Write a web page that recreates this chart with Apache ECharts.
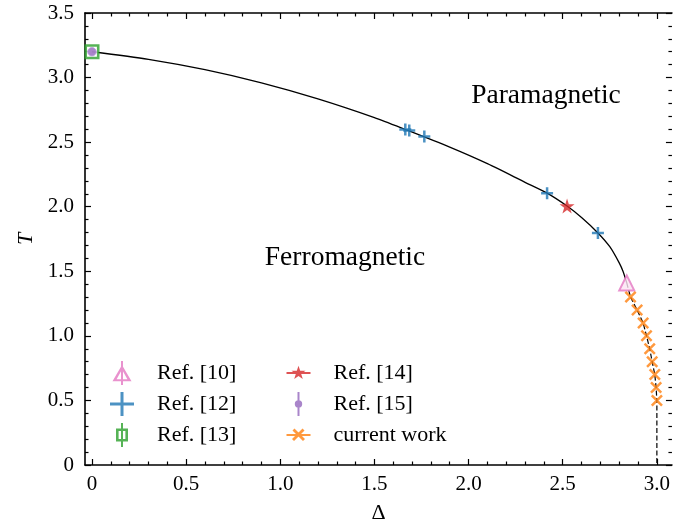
<!DOCTYPE html>
<html><head><meta charset="utf-8">
<script src="https://cdn.jsdelivr.net/npm/echarts@6/dist/echarts.min.js"></script>
<style>html,body{margin:0;padding:0;background:#fff}#c{width:673px;height:529px}</style>
</head><body><div id="c"></div>
<script>
// ---- data ----
const curveDelta = [0, 0.3, 0.6, 0.9, 1.2, 1.5, 1.664, 1.9, 2.1, 2.3, 2.417, 2.523, 2.6, 2.687, 2.75, 2.80, 2.82, 2.84];
const curveT     = [3.2, 3.141, 3.061, 2.959, 2.835, 2.69, 2.598, 2.461, 2.333, 2.189, 2.105, 2.005, 1.916, 1.797, 1.69, 1.565, 1.50, 1.41];
const dashDelta = [2.84, 2.86, 2.895, 2.927, 2.945, 2.962, 2.975, 2.989, 2.996, 3.0, 3.0];
const dashT     = [1.41, 1.3, 1.2, 1.1, 1.0, 0.9, 0.8, 0.7, 0.6, 0.5, 0.0];
const ref10Delta = [2.84];  const ref10T = [1.41];
const ref12Delta = [1.664, 1.685, 1.765, 2.417, 2.687];
const ref12T     = [2.598, 2.59, 2.544, 2.105, 1.797];
const ref13Delta = [0];     const ref13T = [3.2];
const ref14Delta = [2.523]; const ref14T = [2.005];
const ref15Delta = [0];     const ref15T = [3.2];
const curDelta = [2.86, 2.895, 2.927, 2.945, 2.962, 2.975, 2.989, 2.996, 3.0];
const curT     = [1.3, 1.2, 1.1, 1.0, 0.9, 0.8, 0.7, 0.6, 0.5];
const seriesNames = ['Ref. [10]', 'Ref. [12]', 'Ref. [13]', 'Ref. [14]', 'Ref. [15]', 'current work'];
const xTicks = [0, 0.5, 1.0, 1.5, 2.0, 2.5, 3.0];
const xTickLabels = ['0', '0.5', '1.0', '1.5', '2.0', '2.5', '3.0'];
const xMinor = [0.1,0.2,0.3,0.4,0.6,0.7,0.8,0.9,1.1,1.2,1.3,1.4,1.6,1.7,1.8,1.9,2.1,2.2,2.3,2.4,2.6,2.7,2.8,2.9];
const yTicks = [0, 0.5, 1.0, 1.5, 2.0, 2.5, 3.0, 3.5];
const yTickLabels = ['0', '0.5', '1.0', '1.5', '2.0', '2.5', '3.0', '3.5'];
const yMinor = [0.1,0.2,0.3,0.4,0.6,0.7,0.8,0.9,1.1,1.2,1.3,1.4,1.6,1.7,1.8,1.9,2.1,2.2,2.3,2.4,2.6,2.7,2.8,2.9,3.1,3.2,3.3,3.4];

const pairs = (a, b) => a.map((v, i) => [v, b[i]]);
const FONT = '"Liberation Serif", "Times New Roman", serif';
const XMIN = -0.037, XMAX = 3.08, YMIN = 0, YMAX = 3.5;

const C = {pink:'#e377c2', blue:'#1f77b4', green:'#2ca02c', red:'#d62728', purple:'#9467bd', orange:'#ff7f0e'};

const plusSym = 'path://M9.5 0H14.5V9.5H24V14.5H14.5V24H9.5V14.5H0V9.5H9.5Z';
const xSym = 'path://M3.5 0L24 20.5L20.5 24L0 3.5Z M20.5 0L24 3.5L3.5 24L0 20.5Z';
const starSym = 'path://M12 0L14.69 8.3L23.41 8.29L16.36 13.42L19.05 21.71L12 16.58L4.95 21.71L7.64 13.42L0.59 8.29L9.31 8.3Z';

const A = 'M0 0L0 0M24 24L24 24';
const icons = {
  'Ref. [10]': 'path://' + A + 'M11 0L13 0L13 24L11 24Z M12 4L21.5 20.3L2.5 20.3Z M12 8.4L6.6 18.3L17.4 18.3Z',
  'Ref. [12]': 'path://' + A + 'M10.5 0H13.5V10.5H24V13.5H13.5V24H10.5V13.5H0V10.5H10.5Z',
  'Ref. [13]': 'path://' + A + 'M11 0H13V24H11Z M6 5.5H18V18.5H6Z M8.6 8.1V15.9H15.4V8.1Z',
  'Ref. [14]': 'path://' + A + 'M0 11H24V13H0Z M12 4.8L13.7 9.8L19 9.8L14.7 12.9L16.3 18L12 14.9L7.7 18L9.3 12.9L5 9.8L10.3 9.8Z',
  'Ref. [15]': 'path://' + A + 'M11 0H13V24H11Z M15.7 12A3.7 3.7 0 1 1 8.3 12A3.7 3.7 0 1 1 15.7 12Z',
  'current work': 'path://' + A + 'M0 11H24V13H0Z M8 5.5L18.5 16L16.5 18L6 7.5Z M16 5.5L18 7.5L7.5 18L5.5 16Z'
};
const iconColor = {'Ref. [10]':C.pink,'Ref. [12]':C.blue,'Ref. [13]':C.green,'Ref. [14]':C.red,'Ref. [15]':C.purple,'current work':C.orange};
const legendItem = n => ({name:n, icon:icons[n], itemStyle:{color:iconColor[n], borderWidth:0}});

function xAxisDef(pos, vals, len, labels, line) {
  return {
    type:'value', gridIndex:0, position:pos, min:XMIN, max:XMAX,
    splitLine:{show:false},
    axisLine:{show:line, onZero:false, lineStyle:{color:'#000', width:1.6}},
    axisTick:{show:true, inside:true, length:len, customValues:vals, lineStyle:{color:'#000', width:1.2}},
    axisLabel:{show:labels, customValues:vals, margin:9, color:'#000', fontFamily:FONT, fontSize:21,
      formatter:v => { const i = xTicks.findIndex(t => Math.abs(t - v) < 1e-6); return i >= 0 ? xTickLabels[i] : ''; }},
    name: labels ? 'Δ' : '', nameLocation:'middle', nameGap:37,
    nameTextStyle:{color:'#000', fontFamily:FONT, fontSize:22}
  };
}
function yAxisDef(pos, vals, len, labels, line) {
  return {
    type:'value', gridIndex:0, position:pos, min:YMIN, max:YMAX,
    splitLine:{show:false},
    axisLine:{show:line, onZero:false, lineStyle:{color:'#000', width:1.6}},
    axisTick:{show:true, inside:true, length:len, customValues:vals, lineStyle:{color:'#000', width:1.2}},
    axisLabel:{show:labels, customValues:vals, margin:11, color:'#000', fontFamily:FONT, fontSize:21,
      formatter:v => { const i = yTicks.findIndex(t => Math.abs(t - v) < 1e-6); return i >= 0 ? yTickLabels[i] : ''; }},
    name: labels ? 'T' : '', nameLocation:'middle', nameGap:41,
    nameTextStyle:{color:'#000', fontFamily:FONT, fontSize:22, fontStyle:'italic'}
  };
}

const legendBase = {top:361, padding:0, orient:'vertical', itemWidth:60, itemHeight:24, itemGap:7,
  symbolKeepAspect:true, selectedMode:false,
  textStyle:{color:'#000', fontFamily:FONT, fontSize:22, lineHeight:24}};

const chart = echarts.init(document.getElementById('c'), null, {renderer:'canvas'});
chart.setOption({
  animation:false,
  backgroundColor:'#fff',
  grid:{left:85, right:0, top:13, bottom:61.5, containLabel:false},
  xAxis:[
    xAxisDef('bottom', xTicks, 6, true, true),
    xAxisDef('bottom', xMinor, 3.5, false, false),
    xAxisDef('top', xTicks, 6, false, true),
    xAxisDef('top', xMinor, 3.5, false, false)
  ],
  yAxis:[
    yAxisDef('left', yTicks, 6, true, true),
    yAxisDef('left', yMinor, 3.5, false, false),
    yAxisDef('right', yTicks, 6, false, false),
    yAxisDef('right', yMinor, 3.5, false, false)
  ],
  legend:[
    Object.assign({left:110, data:[legendItem('Ref. [10]'), legendItem('Ref. [12]'), legendItem('Ref. [13]')]}, legendBase),
    Object.assign({left:286.5, data:[legendItem('Ref. [14]'), legendItem('Ref. [15]'), legendItem('current work')]}, legendBase)
  ],
  graphic:[
    {type:'text', x:546, y:96, style:{text:'Paramagnetic', font:'27.5px ' + FONT, fill:'#000', align:'center', verticalAlign:'middle'}},
    {type:'text', x:345, y:258, style:{text:'Ferromagnetic', font:'27.5px ' + FONT, fill:'#000', align:'center', verticalAlign:'middle'}}
  ],
  series:[
    {type:'line', name:'boundary', data:pairs(curveDelta, curveT), smooth:0.25, showSymbol:false, z:2,
     lineStyle:{color:'#000', width:1.3}, silent:true},
    {type:'line', name:'boundary-dashed', data:pairs(dashDelta, dashT), smooth:false, showSymbol:false, z:2,
     lineStyle:{color:'#000', width:1.2, type:[5, 2.5]}, silent:true},
    {type:'scatter', name:seriesNames[0], data:pairs(ref10Delta, ref10T), symbol:'triangle', symbolSize:15, z:4, clip:false,
     itemStyle:{color:'#fbe3f3', borderColor:C.pink, borderWidth:2}},
    {type:'scatter', name:seriesNames[1], data:pairs(ref12Delta, ref12T), symbol:plusSym, symbolSize:12, z:4, clip:false,
     itemStyle:{color:C.blue}},
    {type:'scatter', name:seriesNames[2], data:pairs(ref13Delta, ref13T), symbol:'rect', symbolSize:12.5, z:4, clip:false,
     itemStyle:{color:'#fff', borderColor:C.green, borderWidth:2.6}},
    {type:'scatter', name:seriesNames[3], data:pairs(ref14Delta, ref14T), symbol:starSym, symbolSize:15, z:4, clip:false,
     itemStyle:{color:C.red}},
    {type:'scatter', name:seriesNames[4], data:pairs(ref15Delta, ref15T), symbol:'circle', symbolSize:8.5, z:5, clip:false,
     itemStyle:{color:C.purple, borderColor:'#b7a0d8', borderWidth:1}},
    {type:'scatter', name:seriesNames[5], data:pairs(curDelta, curT), symbol:xSym, symbolSize:12, z:4, clip:false,
     itemStyle:{color:C.orange}}
  ]
});
</script></body></html>
